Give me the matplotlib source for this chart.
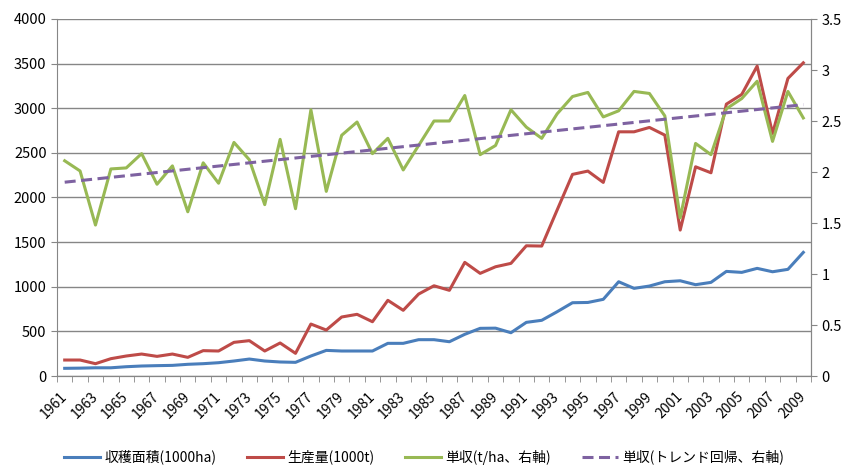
import numpy as np
import matplotlib
matplotlib.use("Agg")
import matplotlib.pyplot as plt
from matplotlib.ticker import MultipleLocator, FuncFormatter

plt.rcParams['font.family'] = ['Noto Sans CJK JP', 'DejaVu Sans']

# ========== データ ==========
years = list(range(1961, 2010))

area = [86, 88, 92, 92, 104, 112, 116, 119, 131, 138,
        149, 168, 190, 168, 157, 153, 224, 287, 280, 280,
        280, 366, 366, 407, 407, 384, 467, 534, 536, 485,
        601, 624, 720, 821, 824, 859, 1056, 982, 1008, 1056,
        1067, 1023, 1049, 1172, 1161, 1206, 1168, 1195, 1385]

production = [179, 179, 138, 194, 224, 246, 220, 246, 209, 284,
              280, 377, 396, 280, 370, 254, 582, 515, 661, 691,
              608, 848, 736, 918, 1011, 960, 1273, 1150, 1224, 1262,
              1459, 1456, 1859, 2259, 2296, 2169, 2736, 2736, 2785, 2699,
              1635, 2344, 2277, 3046, 3155, 3472, 2718, 3334, 3509]

yield_t = [2.11, 2.01, 1.48, 2.03, 2.04, 2.18, 1.88, 2.06, 1.61, 2.09,
           1.89, 2.29, 2.12, 1.68, 2.32, 1.64, 2.61, 1.81, 2.36, 2.49,
           2.18, 2.33, 2.02, 2.26, 2.50, 2.50, 2.75, 2.17, 2.26, 2.61,
           2.44, 2.33, 2.57, 2.74, 2.78, 2.54, 2.60, 2.79, 2.77, 2.55,
           1.55, 2.28, 2.17, 2.62, 2.72, 2.89, 2.30, 2.79, 2.53]

# トレンド回帰の両端（1961, 2009）
trend_years = [1961, 2009]
trend_vals = [1.90, 2.66]

labels = ['収穫面積(1000ha)', '生産量(1000t)', '単収(t/ha、右軸)', '単収(トレンド回帰、右軸)']
colors = ['#4A7EBB', '#BE4B48', '#98B954', '#7E62A1']

# ========== 描画 ==========
fig = plt.figure(figsize=(8.48, 4.65), dpi=100)
ax = fig.add_axes([57/848, 1 - 376/465, (811 - 57)/848, (376 - 19)/465])
ax2 = ax.twinx()

x = np.arange(len(years))
l1, = ax.plot(x, area, color=colors[0], lw=2.2, solid_joinstyle='round')
l2, = ax.plot(x, production, color=colors[1], lw=2.2, solid_joinstyle='round')
l3, = ax2.plot(x, yield_t, color=colors[2], lw=2.2, solid_joinstyle='round')
tx = [years.index(y) for y in trend_years]
l4, = ax2.plot(tx, trend_vals, color=colors[3], lw=2.2, ls=(0, (3.6, 1.8)))

ax.set_xlim(-0.5, len(years) - 0.5)
ax.set_ylim(0, 4000)
ax2.set_ylim(0, 3.5)
ax.yaxis.set_major_locator(MultipleLocator(500))
ax2.yaxis.set_major_locator(MultipleLocator(0.5))
ax2.yaxis.set_major_formatter(FuncFormatter(lambda v, p: f'{v:g}'))

# x 軸: 区切り目盛と2年おきのラベル
ax.set_xticks(np.arange(-0.5, len(years)), minor=True)
ax.set_xticks(x[::2])
ax.set_xticklabels([str(y) for y in years[::2]], rotation=45, ha='right',
                   va='center', rotation_mode='anchor', fontsize=10)
ax.tick_params(axis='x', which='major', length=0, pad=13)
ax.tick_params(axis='x', which='minor', length=4, color='#868686', direction='out')
ax.tick_params(axis='y', length=4, color='#868686', labelsize=10.5)
ax2.tick_params(axis='y', length=4, color='#868686', labelsize=10.5)

ax.grid(axis='y', color='#868686', lw=1)
ax.set_axisbelow(True)
for a in (ax, ax2):
    a.spines['top'].set_visible(False)
    for s in ('left', 'right', 'bottom'):
        a.spines[s].set_color('#868686')
ax2.spines['left'].set_visible(False)

fig.legend([l1, l2, l3, l4], labels, loc='center', bbox_to_anchor=(0.5, 1 - 457/465),
           ncol=4, frameon=False, fontsize=10, handlelength=2.6, columnspacing=2.2,
           handletextpad=0.3)

plt.savefig('out.png', dpi=100)
